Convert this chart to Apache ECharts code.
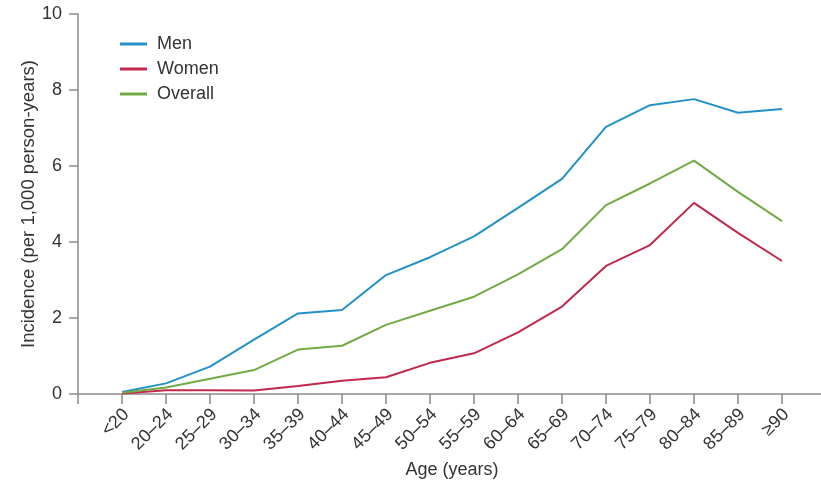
<!DOCTYPE html>
<html>
<head>
<meta charset="utf-8">
<script src="https://cdn.jsdelivr.net/npm/echarts@6/dist/echarts.min.js"></script>
<style>
html,body{margin:0;padding:0;background:#fff;}
#chart{width:821px;height:485px;}
</style>
</head>
<body>
<div id="chart"></div>
<script>
const categories = ['<20','20–24','25–29','30–34','35–39','40–44','45–49','50–54','55–59','60–64','65–69','70–74','75–79','80–84','85–89','≥90'];
const men = [0.05, 0.28, 0.72, 1.43, 2.12, 2.21, 3.13, 3.6, 4.15, 4.9, 5.66, 7.03, 7.6, 7.76, 7.4, 7.5];
const women = [0.01, 0.1, 0.1, 0.09, 0.21, 0.35, 0.44, 0.82, 1.07, 1.62, 2.3, 3.37, 3.92, 5.03, 4.24, 3.5];
const overall = [0.03, 0.17, 0.4, 0.63, 1.17, 1.27, 1.82, 2.19, 2.56, 3.15, 3.81, 4.97, 5.54, 6.14, 5.32, 4.55];
const yTicks = [0, 2, 4, 6, 8, 10];

// pad with an empty slot on each side (axis starts one step before first category)
const axisCats = [''].concat(categories, ['']);
const pad = arr => [null].concat(arr, [null]);

const font = 'Liberation Sans, Arial, sans-serif';
const textColor = '#333';
const axisColor = '#8a8a8a';

const chart = echarts.init(document.getElementById('chart'), null, {renderer: 'canvas'});
chart.setOption({
  animation: false,
  backgroundColor: '#fff',
  grid: {left: 78, top: 14, width: 748, height: 380, containLabel: false, outerBoundsMode: 'none'},
  legend: {
    orient: 'vertical',
    left: 115,
    top: 30,
    icon: 'rect',
    itemWidth: 27,
    itemHeight: 3,
    itemGap: 7,
    textStyle: {fontFamily: font, fontSize: 18, color: textColor, padding: [0, 0, 0, 5]},
    data: ['Men', 'Women', 'Overall']
  },
  xAxis: {
    type: 'category',
    data: axisCats,
    boundaryGap: false,
    name: 'Age (years)',
    nameLocation: 'middle',
    nameGap: 67,
    nameMoveOverlap: false,
    nameTextStyle: {fontFamily: font, fontSize: 18, color: textColor},
    axisLine: {show: true, lineStyle: {color: axisColor, width: 1.5}},
    axisTick: {show: true, length: 10, lineStyle: {color: axisColor, width: 1.5}},
    axisLabel: {
      interval: 0,
      rotate: 45,
      margin: 22,
      padding: [0, -6, 0, 0],
      fontFamily: font,
      fontSize: 18,
      color: textColor
    },
    splitLine: {show: false}
  },
  yAxis: {
    type: 'value',
    min: yTicks[0],
    max: yTicks[yTicks.length - 1],
    interval: 2,
    name: 'Incidence (per 1,000 person-years)',
    nameLocation: 'middle',
    nameGap: 40,
    nameMoveOverlap: false,
    nameTextStyle: {fontFamily: font, fontSize: 18.5, color: textColor},
    axisLine: {show: true, lineStyle: {color: axisColor, width: 1.5}},
    axisTick: {show: true, length: 9, lineStyle: {color: axisColor, width: 1.5}},
    axisLabel: {margin: 16, fontFamily: font, fontSize: 18, color: textColor},
    splitLine: {show: false}
  },
  series: [
    {name: 'Men', type: 'line', data: pad(men), showSymbol: false, symbol: 'none',
     lineStyle: {color: '#2291c8', width: 2}, itemStyle: {color: '#2291c8'}},
    {name: 'Women', type: 'line', data: pad(women), showSymbol: false, symbol: 'none',
     lineStyle: {color: '#c0294b', width: 2}, itemStyle: {color: '#c0294b'}},
    {name: 'Overall', type: 'line', data: pad(overall), showSymbol: false, symbol: 'none',
     lineStyle: {color: '#70ab45', width: 2}, itemStyle: {color: '#70ab45'}}
  ]
});
</script>
</body>
</html>
